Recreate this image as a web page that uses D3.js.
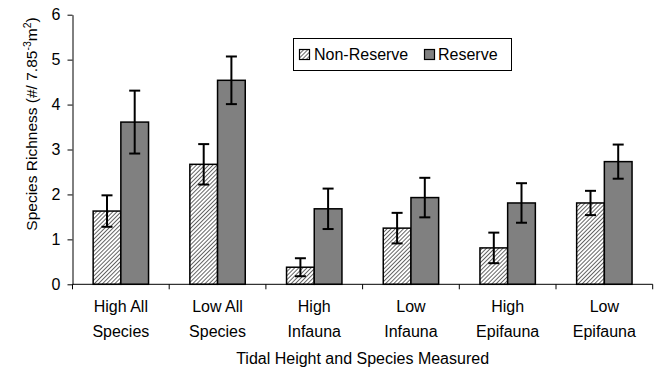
<!DOCTYPE html>
<html><head><meta charset="utf-8">
<script src="https://cdn.jsdelivr.net/npm/d3@7"></script>
<style>body{margin:0;background:#fff}svg{display:block}text{font-family:"Liberation Sans",Arial,sans-serif;fill:#000}</style>
</head><body>
<script>
const categories = [["High All","Species"],["Low All","Species"],["High","Infauna"],["Low","Infauna"],["High","Epifauna"],["Low","Epifauna"]];
const seriesNames = ["Non-Reserve","Reserve"];
const nonReserve = [1.63, 2.67, 0.38, 1.25, 0.81, 1.81];
const nonReserveErr = [0.35, 0.45, 0.2, 0.34, 0.34, 0.27];
const reserve = [3.61, 4.54, 1.68, 1.93, 1.81, 2.73];
const reserveErr = [0.7, 0.53, 0.45, 0.44, 0.44, 0.38];
const yTicks = [0,1,2,3,4,5,6];

const W=658,H=380;
const svg=d3.select("body").append("svg").attr("width",W).attr("height",H);
const defs=svg.append("defs");
const pat=defs.append("pattern").attr("id","hatch").attr("patternUnits","userSpaceOnUse")
  .attr("width",2.9).attr("height",2.9).attr("patternTransform","rotate(45)");
pat.append("rect").attr("width",2.9).attr("height",2.9).attr("fill","#fff");
pat.append("line").attr("x1",0).attr("y1",0).attr("x2",0).attr("y2",2.9).attr("stroke","#000").attr("stroke-width",1.2);

const x0=d3.scaleBand().domain(d3.range(categories.length)).range([72.5,652.7]);
const x1=d3.scaleBand().domain([0,1]).range([0,55.4]);
const y=d3.scaleLinear().domain([0,6]).range([284.3,14.7]);
const off=(x0.bandwidth()-55.4)/2;

const data=categories.map((c,i)=>[
 {s:0,v:nonReserve[i],e:nonReserveErr[i]},
 {s:1,v:reserve[i],e:reserveErr[i]}]);

const g=svg.append("g");
data.forEach((d,i)=>{
  d.forEach(b=>{
    const bx=x0(i)+off+x1(b.s), bw=x1.bandwidth();
    g.append("rect").attr("x",bx).attr("y",y(b.v)).attr("width",bw).attr("height",y(0)-y(b.v))
     .attr("fill",b.s===0?"url(#hatch)":"#808080").attr("stroke","#000").attr("stroke-width",1.5);
    const cx=bx+bw/2;
    g.append("line").attr("x1",cx).attr("x2",cx).attr("y1",y(b.v+b.e)).attr("y2",y(b.v-b.e)).attr("stroke","#000").attr("stroke-width",2);
    [b.v+b.e,b.v-b.e].forEach(v=>g.append("line").attr("x1",cx-5.5).attr("x2",cx+5.5).attr("y1",y(v)).attr("y2",y(v)).attr("stroke","#000").attr("stroke-width",2));
  });
});

// y axis
const ya=svg.append("g").attr("transform","translate(72.5,0)")
 .call(d3.axisLeft(y).tickValues(yTicks).tickFormat(d3.format("d")).tickSize(5).tickSizeOuter(0));
ya.select(".domain").attr("stroke","#000").attr("stroke-width",1);
ya.selectAll(".tick line").attr("stroke","#000");
ya.selectAll("text").attr("font-size",16).attr("x",-12).attr("font-family","Liberation Sans, Arial, sans-serif");

// x axis
const xa=svg.append("g").attr("transform","translate(0,284.3)");
xa.append("line").attr("x1",72.5).attr("x2",652.7).attr("stroke","#000");
d3.range(categories.length+1).forEach(i=>{
  const tx=i<categories.length?x0(i):652.7;
  xa.append("line").attr("x1",tx).attr("x2",tx).attr("y1",0).attr("y2",5).attr("stroke","#000");
});
categories.forEach((c,i)=>{
  const t=svg.append("text").attr("text-anchor","middle").attr("font-size",16)
   .attr("x",x0(i)+x0.bandwidth()/2).attr("y",312);
  c.forEach((l,k)=>t.append("tspan").attr("x",x0(i)+x0.bandwidth()/2).attr("dy",k?25:0).text(l));
});
svg.append("text").attr("text-anchor","middle").attr("font-size",16).attr("x",362.6).attr("y",364)
 .text("Tidal Height and Species Measured");

// y title
const yt=svg.append("text").attr("text-anchor","middle").attr("font-size",15.5)
 .attr("transform","translate(37,124) rotate(-90)");
yt.append("tspan").text("Species Richness (#/ 7.85");
yt.append("tspan").attr("font-size",10.5).attr("dy",-6).text("-3");
yt.append("tspan").attr("dy",6).text("m");
yt.append("tspan").attr("font-size",10.5).attr("dy",-6).text("2");
yt.append("tspan").attr("dy",6).text(")");

// legend
const lg=svg.append("g");
lg.append("rect").attr("x",293.5).attr("y",38.5).attr("width",218).attr("height",32).attr("fill","#fff").attr("stroke","#000");
lg.append("rect").attr("x",299.5).attr("y",49.5).attr("width",10).attr("height",10).attr("fill","url(#hatch)").attr("stroke","#000").attr("stroke-width",1.2);
lg.append("text").attr("x",314).attr("y",60).attr("font-size",16).text(seriesNames[0]);
lg.append("rect").attr("x",424.5).attr("y",49.5).attr("width",10).attr("height",10).attr("fill","#808080").attr("stroke","#000").attr("stroke-width",1.2);
lg.append("text").attr("x",438).attr("y",60).attr("font-size",16).text(seriesNames[1]);
</script>
</body></html>
